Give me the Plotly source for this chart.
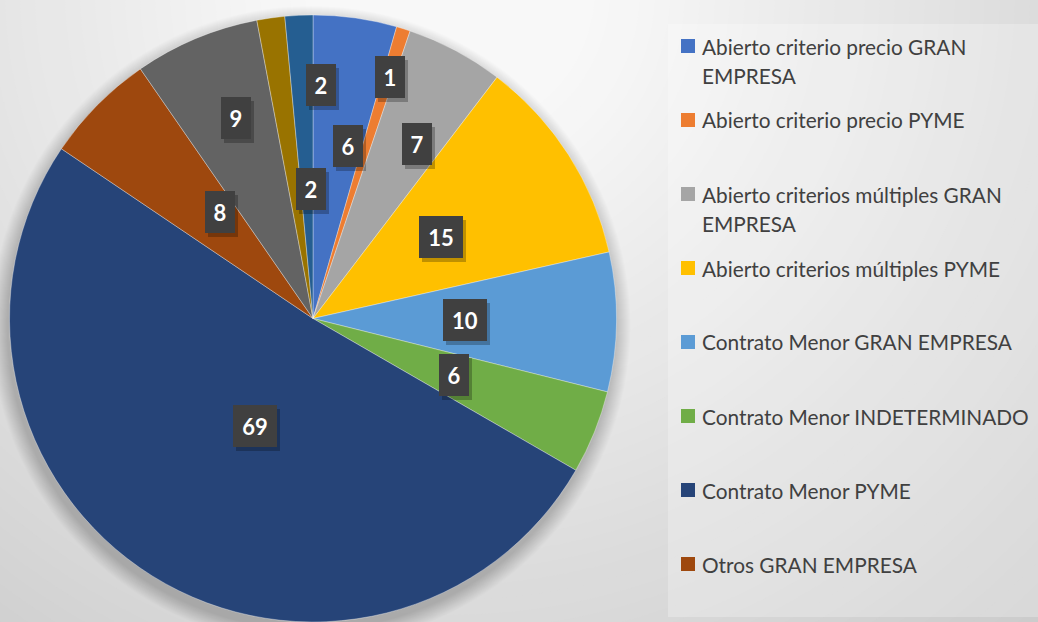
import math
import textwrap
import plotly.graph_objects as go

# ---------------- data ----------------
categories = [
    "Abierto criterio precio GRAN EMPRESA",
    "Abierto criterio precio PYME",
    "Abierto criterios múltiples GRAN EMPRESA",
    "Abierto criterios múltiples PYME",
    "Contrato Menor GRAN EMPRESA",
    "Contrato Menor INDETERMINADO",
    "Contrato Menor PYME",
    "Otros GRAN EMPRESA",
    "Otros PYME",
    "Sin datos GRAN EMPRESA",
    "Sin datos PYME",
]
values = [6, 1, 7, 15, 10, 6, 69, 8, 9, 2, 2]
colors = ["#4472C4", "#ED7D31", "#A5A5A5", "#FFC000", "#5B9BD5", "#70AD47",
          "#264478", "#9E480E", "#636363", "#997300", "#255E91"]

# ---------------- layout constants (styling) ----------------
W, H = 1038, 622
PIE_TOP = 15
R = (H - PIE_TOP) / 2.0
CX, CY = 313.0, PIE_TOP + R
label_radius = [0.64, 0.90, 0.73, 0.5, 0.5, 0.5, 0.5, 0.5, 0.79, 0.5, 0.84]
label_angle_shift = [-2, -1, 0, 0, 0, 0, 0, 0, 0, 1.5, 1]

FONT = "Lato"


def px(x):
    return x / W


def py(y):
    return 1 - y / H


fig = go.Figure()
fig.add_trace(go.Pie(
    labels=categories,
    values=values,
    sort=False,
    direction="clockwise",
    rotation=0,
    marker=dict(colors=colors, line=dict(color="rgba(255,255,255,0.45)", width=0.75)),
    textinfo="none",
    hoverinfo="label+value",
    showlegend=False,
    domain=dict(x=[px(CX - R), px(CX + R)], y=[0, py(PIE_TOP)]),
))

shapes = []
# background radial gradient
gcx, gcy = 450.0, -10.0
r = 1150
while r >= 140:
    v = 248 - 0.062 * max(0.0, r - 150)
    v = int(round(max(180, min(248, v))))
    shapes.append(dict(type="circle", xref="paper", yref="paper", layer="below",
                       x0=px(gcx - r), x1=px(gcx + r), y0=py(gcy + r), y1=py(gcy - r),
                       fillcolor=f"rgb({v},{v},{v})", line=dict(width=0)))
    r -= 15
# pie soft shadow (offset downward)
for k in range(16, 0, -1):
    rr = R + k
    scx, scy = CX - 2, CY + 7
    shapes.append(dict(type="circle", xref="paper", yref="paper", layer="below",
                       x0=px(scx - rr), x1=px(scx + rr), y0=py(scy + rr), y1=py(scy - rr),
                       fillcolor="rgba(0,0,0,0.013)", line=dict(width=0)))
# legend panel
shapes.append(dict(type="rect", xref="paper", yref="paper", layer="below",
                   x0=px(668), x1=px(W), y0=py(617), y1=py(24),
                   fillcolor="rgba(255,255,255,0.25)", line=dict(width=0)))

annotations = []
# data labels with dark boxes
total = sum(values)
cum = 0.0
for i, v in enumerate(values):
    mid = (cum + v / 2.0) / total * 360.0 + label_angle_shift[i]
    cum += v
    th = math.radians(mid)
    lx = CX + label_radius[i] * R * math.sin(th)
    ly = CY - label_radius[i] * R * math.cos(th)
    txt = str(v)
    bw = 30 if len(txt) == 1 else 44
    annotations.append(dict(x=px(lx + 3), y=py(ly + 4), xref="paper", yref="paper",
                            text=" ", showarrow=False, width=bw, height=42,
                            bgcolor="rgba(0,0,0,0.25)", borderpad=0, borderwidth=0,
                            font=dict(size=10)))
    annotations.append(dict(x=px(lx), y=py(ly), xref="paper", yref="paper",
                            text=f"<b>{txt}</b>", showarrow=False, width=bw, height=42,
                            bgcolor="#404040", borderpad=0, borderwidth=0,
                            font=dict(family=FONT, size=22, color="white")))

# custom legend (panel truncates items that do not fit)
LEG_Y0, LEG_STEP, LINE_STEP = 46, 74, 29
for i, name in enumerate(categories):
    yc = LEG_Y0 + LEG_STEP * i
    if yc + 10 > H:
        break
    shapes.append(dict(type="rect", xref="paper", yref="paper",
                       x0=px(681), x1=px(695), y0=py(yc + 7), y1=py(yc - 7),
                       fillcolor=colors[i], line=dict(width=0)))
    for j, line in enumerate(textwrap.wrap(name, 32)):
        annotations.append(dict(x=px(700), y=py(yc + j * LINE_STEP), xref="paper", yref="paper",
                                text=line, showarrow=False, xanchor="left", yanchor="middle",
                                font=dict(family=FONT, size=20.8, color="#404040")))

fig.update_layout(
    width=W, height=H,
    margin=dict(l=0, r=0, t=0, b=0),
    paper_bgcolor="rgb(200,200,200)",
    plot_bgcolor="rgba(0,0,0,0)",
    shapes=shapes,
    annotations=annotations,
    showlegend=False,
)

fig.write_html(
    "out.html",
    config={"displayModeBar": False},
    post_script="document.body.style.margin='0';document.body.style.padding='0';"
                "document.body.style.overflow='hidden';",
)
